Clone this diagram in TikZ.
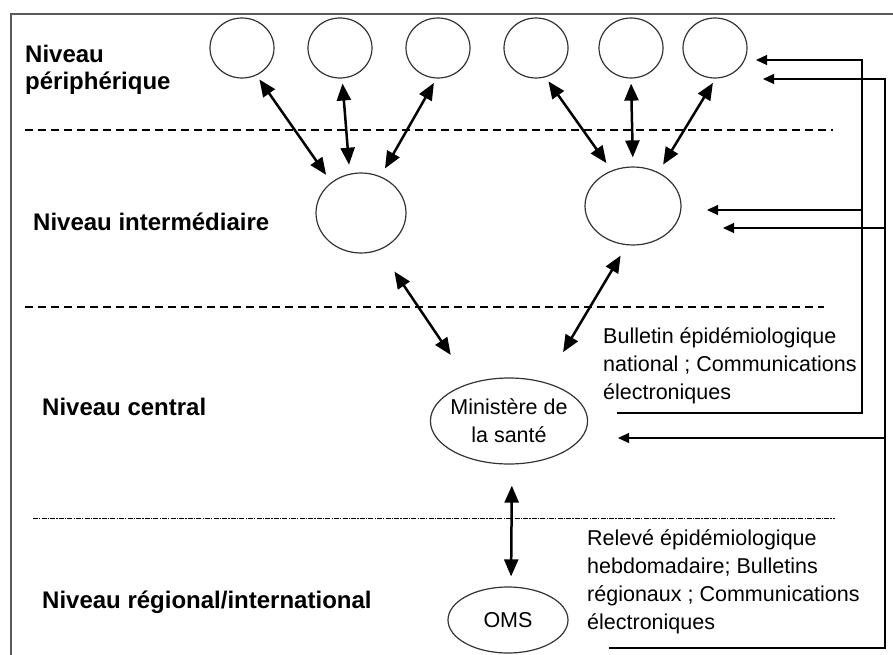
\documentclass[tikz,border=0pt]{standalone}
\usepackage{fontspec}
\setmainfont{Liberation Sans}
\usetikzlibrary{arrows.meta, shapes.geometric}

\begin{document}
\begin{tikzpicture}[x=1pt, y=-1pt, node distance=98pt,
  site/.style={ellipse, draw=black!80, line width=1.2pt, inner sep=0pt, minimum width=64pt, minimum height=60pt},
  tier/.style={font=\fontsize{24}{27}\selectfont\bfseries, inner sep=0pt, align=left},
  note/.style={font=\fontsize{21.5}{28}\selectfont, inner sep=0pt, align=left},
  link/.style={{Triangle[length=17pt,width=14pt]}-{Triangle[length=17pt,width=14pt]}, line width=2.5pt, shorten <=5pt, shorten >=9pt},
  feed/.style={-{Triangle[length=11pt,width=10pt]}, line width=1.1pt},
  divider/.style={line width=2pt, dash pattern=on 8pt off 5pt}]

\useasboundingbox (0,0) rectangle (893,655);

% frame and level separators
  \draw[black!65, line width=1.3pt] (893,14) -- (11,14) -- (11,655);
  \draw[divider] (25,130) -- (833,130);
  \draw[divider] (25,307) -- (824,307);
  \draw[line width=1pt, dash pattern=on 5pt off 1.2pt on 1.2pt off 1.2pt] (33,518) -- (835,518);

% level labels
  \node[tier, anchor=west]      (lp) at (25,70)  {Niveau\\périphérique};
  \node[tier, anchor=base west] (li) at (33,230) {Niveau intermédiaire};
  \node[tier, anchor=base west] (lc) at (42,415) {Niveau central};
  \node[tier, anchor=base west] (lr) at (42,608) {Niveau régional/international};

% peripheral sites
  \node[site] (p1) at (242,48) {};
  \node[site] (p2) [right of=p1] {};
  \node[site] (p3) [right of=p2] {};
  \node[site] (p4) [right of=p3] {};
  \node[site] (p5) [right of=p4, node distance=95pt] {};
  \node[site] (p6) [right of=p5, node distance=84pt] {};

% intermediate, central and regional
  \node[site, minimum width=90pt, minimum height=80pt] (i1) at (361,213) {};
  \node[site, minimum width=96pt, minimum height=78pt] (i2) at (633,206) {};
  \node[site, minimum width=154pt, minimum height=86pt, inner xsep=-3pt, align=center,
        font=\fontsize{21.5}{28}\selectfont] (m) at (509,421) {Ministère de\\la santé};
  \node[site, minimum width=120pt, minimum height=66pt,
        font=\fontsize{21.5}{28}\selectfont] (oms) at (508,620) {OMS};

% feedback texts
  \node[note, anchor=west] (bn) at (603,366) {Bulletin épidémiologique\\national ; Communications\\électroniques};
  \node[note, anchor=west] (ri) at (587,582) {Relevé épidémiologique\\hebdomadaire; Bulletins\\régionaux ; Communications\\électroniques};

% define the links
  \draw[link] (p1.-62) -- (i1.134);
  \draw[link] (p2.-86) -- (i1.106);
  \draw[link] (p3.-93) -- (i1.62);
  \draw[link] (p4.-72) -- (i2.121);
  \draw[link] (p5.-90) -- (i2.90);
  \draw[link] (p6.-89) -- (i2.53);
  \draw[link, shorten <=26pt, shorten >=34pt] (i1.-63) -- (m.136);
  \draw[link, shorten <=12pt, shorten >=35pt] (i2.-99) -- (m.47);
  \draw[link, shorten <=21pt, shorten >=10pt] ([xshift=3pt]m.south) -- ([xshift=3pt]oms.north);

% feedback lines
  \coordinate (nat)  at (617,413);
  \coordinate (natT) at (862,60);
  \coordinate (natP) at (756,60);
  \coordinate (natI) at (707,210);
  \coordinate (who)  at (609,648);
  \coordinate (whoT) at (885,79);
  \coordinate (whoP) at (763,79);
  \coordinate (whoI) at (723,228);
  \coordinate (whoM) at (618,438);

  \draw[feed] (nat) -| (natT) -- (natP);
  \draw[feed] (natI -| natT) -- (natI);
  \draw[feed] (who) -| (whoT) -- (whoP);
  \draw[feed] (whoI -| whoT) -- (whoI);
  \draw[feed] (whoM -| whoT) -- (whoM);

\end{tikzpicture}
\end{document}
